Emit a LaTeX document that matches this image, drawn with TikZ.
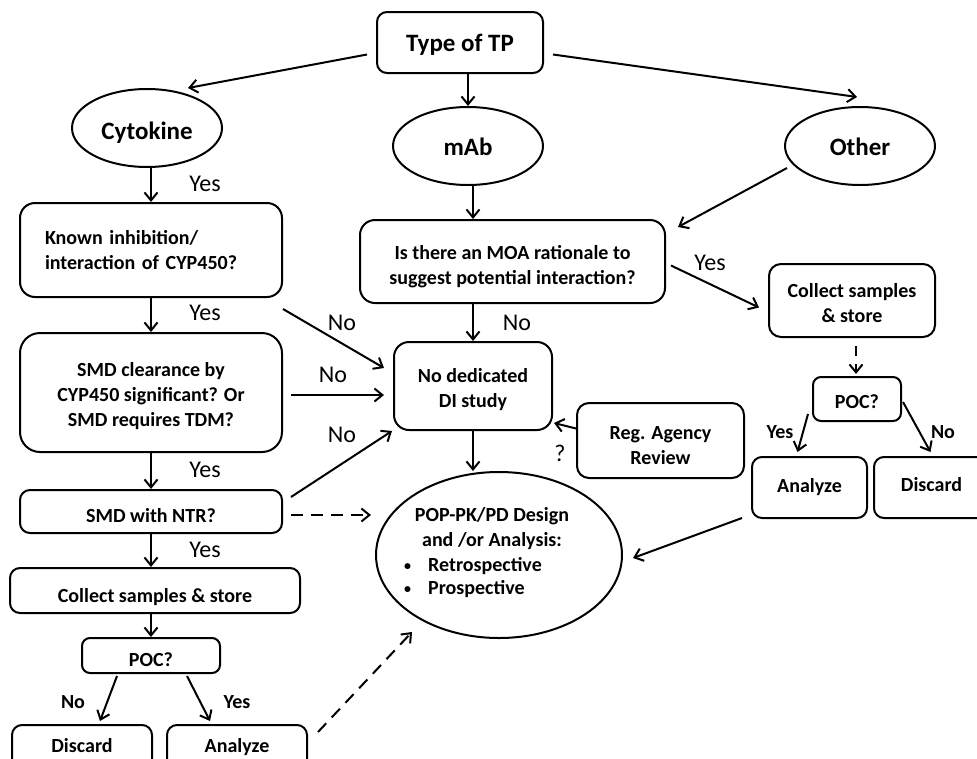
\documentclass[tikz,border=0pt]{standalone}
\usepackage{fontspec}
\setmainfont{Carlito}
\usetikzlibrary{arrows.meta,calc,shapes.geometric}

% lower a (possibly multi-line) label inside its box without changing the box
\newcommand\tdn[2]{\raisebox{-#1}[\height][\depth]{\begin{tabular}{@{}c@{}}#2\end{tabular}}}
\newcommand\smallbullet{\raisebox{1.5pt}{\fontsize{14}{14}\selectfont\textbullet}}

\tikzset{
  arr/.style={line width=2pt,-{Straight Barb[length=8pt,width=13pt,line width=2pt]}},
  dasharr/.style={arr,dash pattern=on 12pt off 8pt},
  box/.style={draw,line width=2pt,rectangle,rounded corners=#1,inner sep=0pt,
    align=center,font=\bfseries\fontsize{20}{25}\selectfont},
  box/.default=12pt,
  oval/.style={draw,line width=2pt,ellipse,inner sep=0pt,
    font=\bfseries\fontsize{25}{30}\selectfont},
  lbl/.style={font=\fontsize{24}{28}\selectfont,inner sep=0pt},
  slbl/.style={font=\bfseries\fontsize{20}{24}\selectfont,inner sep=0pt},
}

\begin{document}
\begin{tikzpicture}[x=1pt,y=-1pt]
\useasboundingbox (0,0) rectangle (977,758);
\clip (0,0) rectangle (977,758);

% top level
\node[box=10pt,minimum width=166pt,minimum height=61pt,
  font=\bfseries\fontsize{25}{30}\selectfont] (type) at (460,42.5) {\tdn{2.5pt}{Type of TP}};
\node[oval,minimum width=150pt,minimum height=78pt] (cyto) at (147,128) {\tdn{5pt}{Cytokine}};
\node[oval,minimum width=150pt,minimum height=78pt] (mab) at (468,146) {\tdn{3pt}{mAb}};
\node[oval,minimum width=150pt,minimum height=78pt] (other) at (860,146) {\tdn{3pt}{Other}};

% cytokine branch
\node[box=15pt,minimum width=262pt,minimum height=94pt,align=left,
  text width=212pt,inner xsep=25pt] (known) at (151,250)
  {Known inhibition/\\interaction of CYP450?};
\node[box=20pt,minimum width=262pt,minimum height=119pt] (smdc) at (151,392.5)
  {\tdn{4pt}{SMD clearance by\\CYP450 significant? Or\\SMD requires TDM?}};
\node[box=10pt,minimum width=262pt,minimum height=43pt] (ntr) at (151,511.5)
  {\tdn{6pt}{SMD with NTR?}};
\node[box=10pt,minimum width=290pt,minimum height=45pt] (collL) at (155,590.5)
  {\tdn{6.5pt}{Collect samples \& store}};
\node[box=8pt,minimum width=138pt,minimum height=35pt] (pocL) at (151,655.5) {\tdn{6pt}{POC?}};
\node[box=10pt,minimum width=140pt,minimum height=46pt] (disL) at (82,748) {\tdn{-1pt}{Discard}};
\node[box=10pt,minimum width=140pt,minimum height=46pt] (anaL) at (237,748) {\tdn{-1pt}{Analyze}};

% mAb / other branch
\node[box=15pt,minimum width=305pt,minimum height=83pt] (moa) at (512.5,261.5)
  {\tdn{5pt}{Is there an MOA rationale to\\suggest potential interaction?}};
\node[box=15pt,minimum width=158pt,minimum height=88pt] (noDI) at (473,386)
  {\tdn{4pt}{No dedicated\\DI study}};
\node[box=12pt,minimum width=167pt,minimum height=75pt] (reg) at (660.5,440.5)
  {\tdn{6pt}{Reg. Agency\\Review}};
\node[box=12pt,minimum width=166pt,minimum height=73pt] (collR) at (852,300.5)
  {\tdn{4.5pt}{Collect samples\\\& store}};
\node[box=8pt,minimum width=88pt,minimum height=44pt] (pocR) at (857,399) {\tdn{4pt}{POC?}};
\node[box=10pt,minimum width=115pt,minimum height=61pt] (anaR) at (809.5,487.5) {Analyze};
\node[box=10pt,minimum width=115pt,minimum height=61pt] (disR) at (931.5,487.5) {\tdn{-1pt}{Discard}};

% population PK/PD
\node[draw,line width=2pt,ellipse,minimum width=246pt,minimum height=166pt] (pop) at (499,555) {};
\node[font=\bfseries\fontsize{20}{25}\selectfont,align=center,inner sep=0pt]
  (popt) at (492,529) {POP-PK/PD Design\\and /or Analysis:};
\node[font=\bfseries\fontsize{20}{23}\selectfont,align=left,inner sep=0pt,anchor=west]
  (popl) at (404,578) {\smallbullet\hspace{17pt}Retrospective\\\smallbullet\hspace{17pt}Prospective};

% connectors from the top
\draw[arr] ($(type.west)+(-9,12)$) -- ($(cyto.north)+(41,0)$);
\draw[arr] (type.south -| mab.north) -- (mab.north);
\draw[arr] ($(type.east)+(9,12)$) -- ($(other.north)+(-3,-9)$);
\draw[arr] (known.north |- cyto.south) -- (known.north);
\draw[arr] (mab.south -| noDI.north) -- (moa.north -| noDI.north);
\draw[arr] ($(other.center)+(-73,22)$) -- ($(moa.north east)+(12,8)$);

% cytokine column
\draw[arr] (known.south) -- (smdc.north);
\draw[arr] (smdc.south) -- (ntr.north);
\draw[arr] (ntr.south) -- (ntr.south |- collL.north);
\draw[arr] (pocL.north |- collL.south) -- (pocL.north);
\draw[arr] ($(pocL.south)+(-34,2)$) -- ($(disL.north)+(18,-3)$);
\draw[arr] ($(pocL.south)+(36,2)$) -- ($(anaL.north)+(-27,-3)$);

% into "no dedicated DI study"
\draw[arr] ($(known.south east)+(0,11)$) -- ($(noDI.west)+(-9,-18)$);
\draw[arr] ($(smdc.east)+(8,2.5)$) -- ($(noDI.west)+(-9,9)$);
\draw[arr] ($(ntr.north east)+(8,8)$) -- ($(noDI.south west)+(-1,0)$);
\draw[arr] (moa.south -| noDI.north) -- (noDI.north);
\draw[arr] ($(reg.west)+(0,-12)$) -- ($(noDI.south east)+(1,-8)$);
\draw[arr] (noDI.south) -- (noDI.south |- pop.north);

% into the population analysis
\draw[dasharr] ($(ntr.east)+(8,3.5)$) -- ($(pop.west)+(-4,-40)$);
\draw[dasharr] ($(anaL.north east)+(10,8)$) -- ($(pop.center)+(-87,77)$);
\draw[arr] ($(anaR.south west)+(-9,-1)$) -- ($(pop.east)+(10,3)$);

% right branch
\draw[arr] ($(moa.east)+(5,4)$) -- ($(collR.west)+(-9,7)$);
\draw[arr,dash pattern=on 10pt off 8pt] ($(collR.south)+(4,8)$) -- ($(pocR.north)+(-1,-2)$);
\draw[arr] ($(pocR.south west)+(-4,-8)$) -- ($(anaR.north)+(-12,-4)$);
\draw[arr] ($(pocR.east)+(1,3)$) -- ($(disR.north)+(-1,-4)$);

% branch labels
\node[lbl] (y1) at (205,184) {Yes};
\node[lbl] (y2) at (205,313) {Yes};
\node[lbl] (y3) at (205,470) {Yes};
\node[lbl] (y4) at (205,550) {Yes};
\node[lbl] (n1) at (342,323) {No};
\node[lbl] (n2) at (333,375) {No};
\node[lbl] (n3) at (342,435) {No};
\node[lbl] (n4) at (517,323) {No};
\node[lbl] (y5) at (710,263) {Yes};
\node[lbl] (q) at (560,453) {?};
\node[slbl] (y6) at (780,432) {Yes};
\node[slbl] (n5) at (943,432) {No};
\node[slbl] (n6) at (73,702) {No};
\node[slbl] (y7) at (237,702) {Yes};
\end{tikzpicture}
\end{document}
